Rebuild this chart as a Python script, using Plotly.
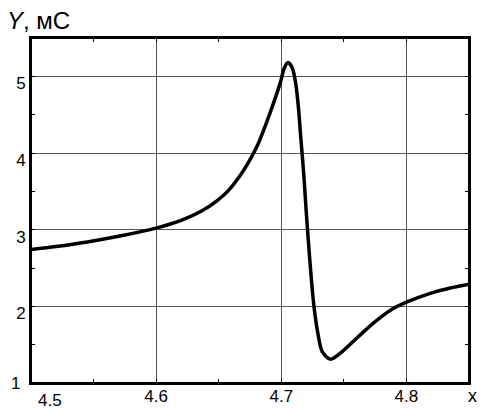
import plotly.graph_objects as go

x_vals = [4.500, 4.520, 4.545, 4.572, 4.600, 4.620, 4.637, 4.648, 4.6571, 4.6677,
          4.6756, 4.681, 4.6876, 4.6942, 4.6996, 4.7022, 4.7054, 4.7088, 4.7115, 4.7136,
          4.7155, 4.7181, 4.7202, 4.7234, 4.7261, 4.7292, 4.7327, 4.7394, 4.7487, 4.7619,
          4.775, 4.7872, 4.801, 4.819, 4.835, 4.850]
y_vals = [2.74, 2.78, 2.84, 2.92, 3.02, 3.12, 3.25, 3.37, 3.50, 3.72,
          3.93, 4.10, 4.37, 4.67, 4.94, 5.10, 5.18, 5.11, 4.91, 4.61,
          4.22, 3.69, 3.17, 2.48, 2.00, 1.65, 1.41, 1.31, 1.41, 1.61,
          1.80, 1.95, 2.06, 2.17, 2.24, 2.29]

x_ticks = [4.6, 4.7, 4.8]
x_first_label = "4.5"
x_minor = [4.55, 4.65, 4.75]
y_ticks = [2, 3, 4, 5]
y_first_label = "1"
y_minor = [1.5, 2.5, 3.5, 4.5, 5.5]
y_title = "<i>Y</i>, мС"
x_title = "x"

FONT = "Liberation Sans, Arial, sans-serif"

fig = go.Figure()
fig.add_trace(go.Scatter(
    x=x_vals, y=y_vals, mode="lines",
    line=dict(color="black", width=3.5, shape="spline", smoothing=0.8),
    hoverinfo="skip", showlegend=False,
))

axis_common = dict(
    showline=True, linecolor="black", linewidth=2, mirror="allticks",
    showgrid=True, gridcolor="#555555", gridwidth=1,
    zeroline=False, ticks="inside", ticklen=4, tickcolor="black",
    tickfont=dict(family=FONT, size=17, color="black"),
    automargin=False,
)

fig.update_xaxes(
    range=[4.5, 4.85], tickvals=x_ticks, ticktext=[str(v) for v in x_ticks],
    minor=dict(tickvals=x_minor, ticks="inside", ticklen=4, tickcolor="black", showgrid=False),
    ticklabelstandoff=-3,
    **axis_common,
)
fig.update_yaxes(
    range=[1, 5.5], tickvals=y_ticks, ticktext=[str(v) for v in y_ticks],
    minor=dict(tickvals=y_minor, ticks="inside", ticklen=4, tickcolor="black", showgrid=False),
    ticklabelshift=7,
    **axis_common,
)

# frame
fig.add_shape(type="rect", xref="paper", yref="paper", x0=0, y0=0, x1=1, y1=1,
              line=dict(color="black", width=2), fillcolor="rgba(0,0,0,0)", layer="above")

fig.add_annotation(x=4.515, y=1, xref="x", yref="y", text=x_first_label, showarrow=False,
                   xanchor="center", yanchor="top", yshift=-6,
                   font=dict(family=FONT, size=17, color="black"))
fig.add_annotation(x=4.5, y=1, xref="x", yref="y", text=y_first_label, showarrow=False,
                   xanchor="right", yanchor="middle", xshift=-9,
                   font=dict(family=FONT, size=17, color="black"))
fig.add_annotation(x=-0.06, y=1.052, xref="paper", yref="paper", text=y_title, showarrow=False,
                   xanchor="left", yanchor="middle",
                   font=dict(family=FONT, size=24, color="black"))
fig.add_annotation(x=1.007, y=-0.0725, xref="paper", yref="paper", text=x_title, showarrow=False,
                   xanchor="center", yanchor="bottom",
                   font=dict(family=FONT, size=18, color="black"))

fig.update_layout(
    width=482, height=409,
    margin=dict(l=31, r=13, t=38, b=26, autoexpand=False),
    paper_bgcolor="white", plot_bgcolor="white",
    font=dict(family=FONT, color="black"),
)

fig.write_html("out.html", config={"displayModeBar": False},
               post_script="document.body.style.margin='0';document.body.style.overflow='hidden';")
